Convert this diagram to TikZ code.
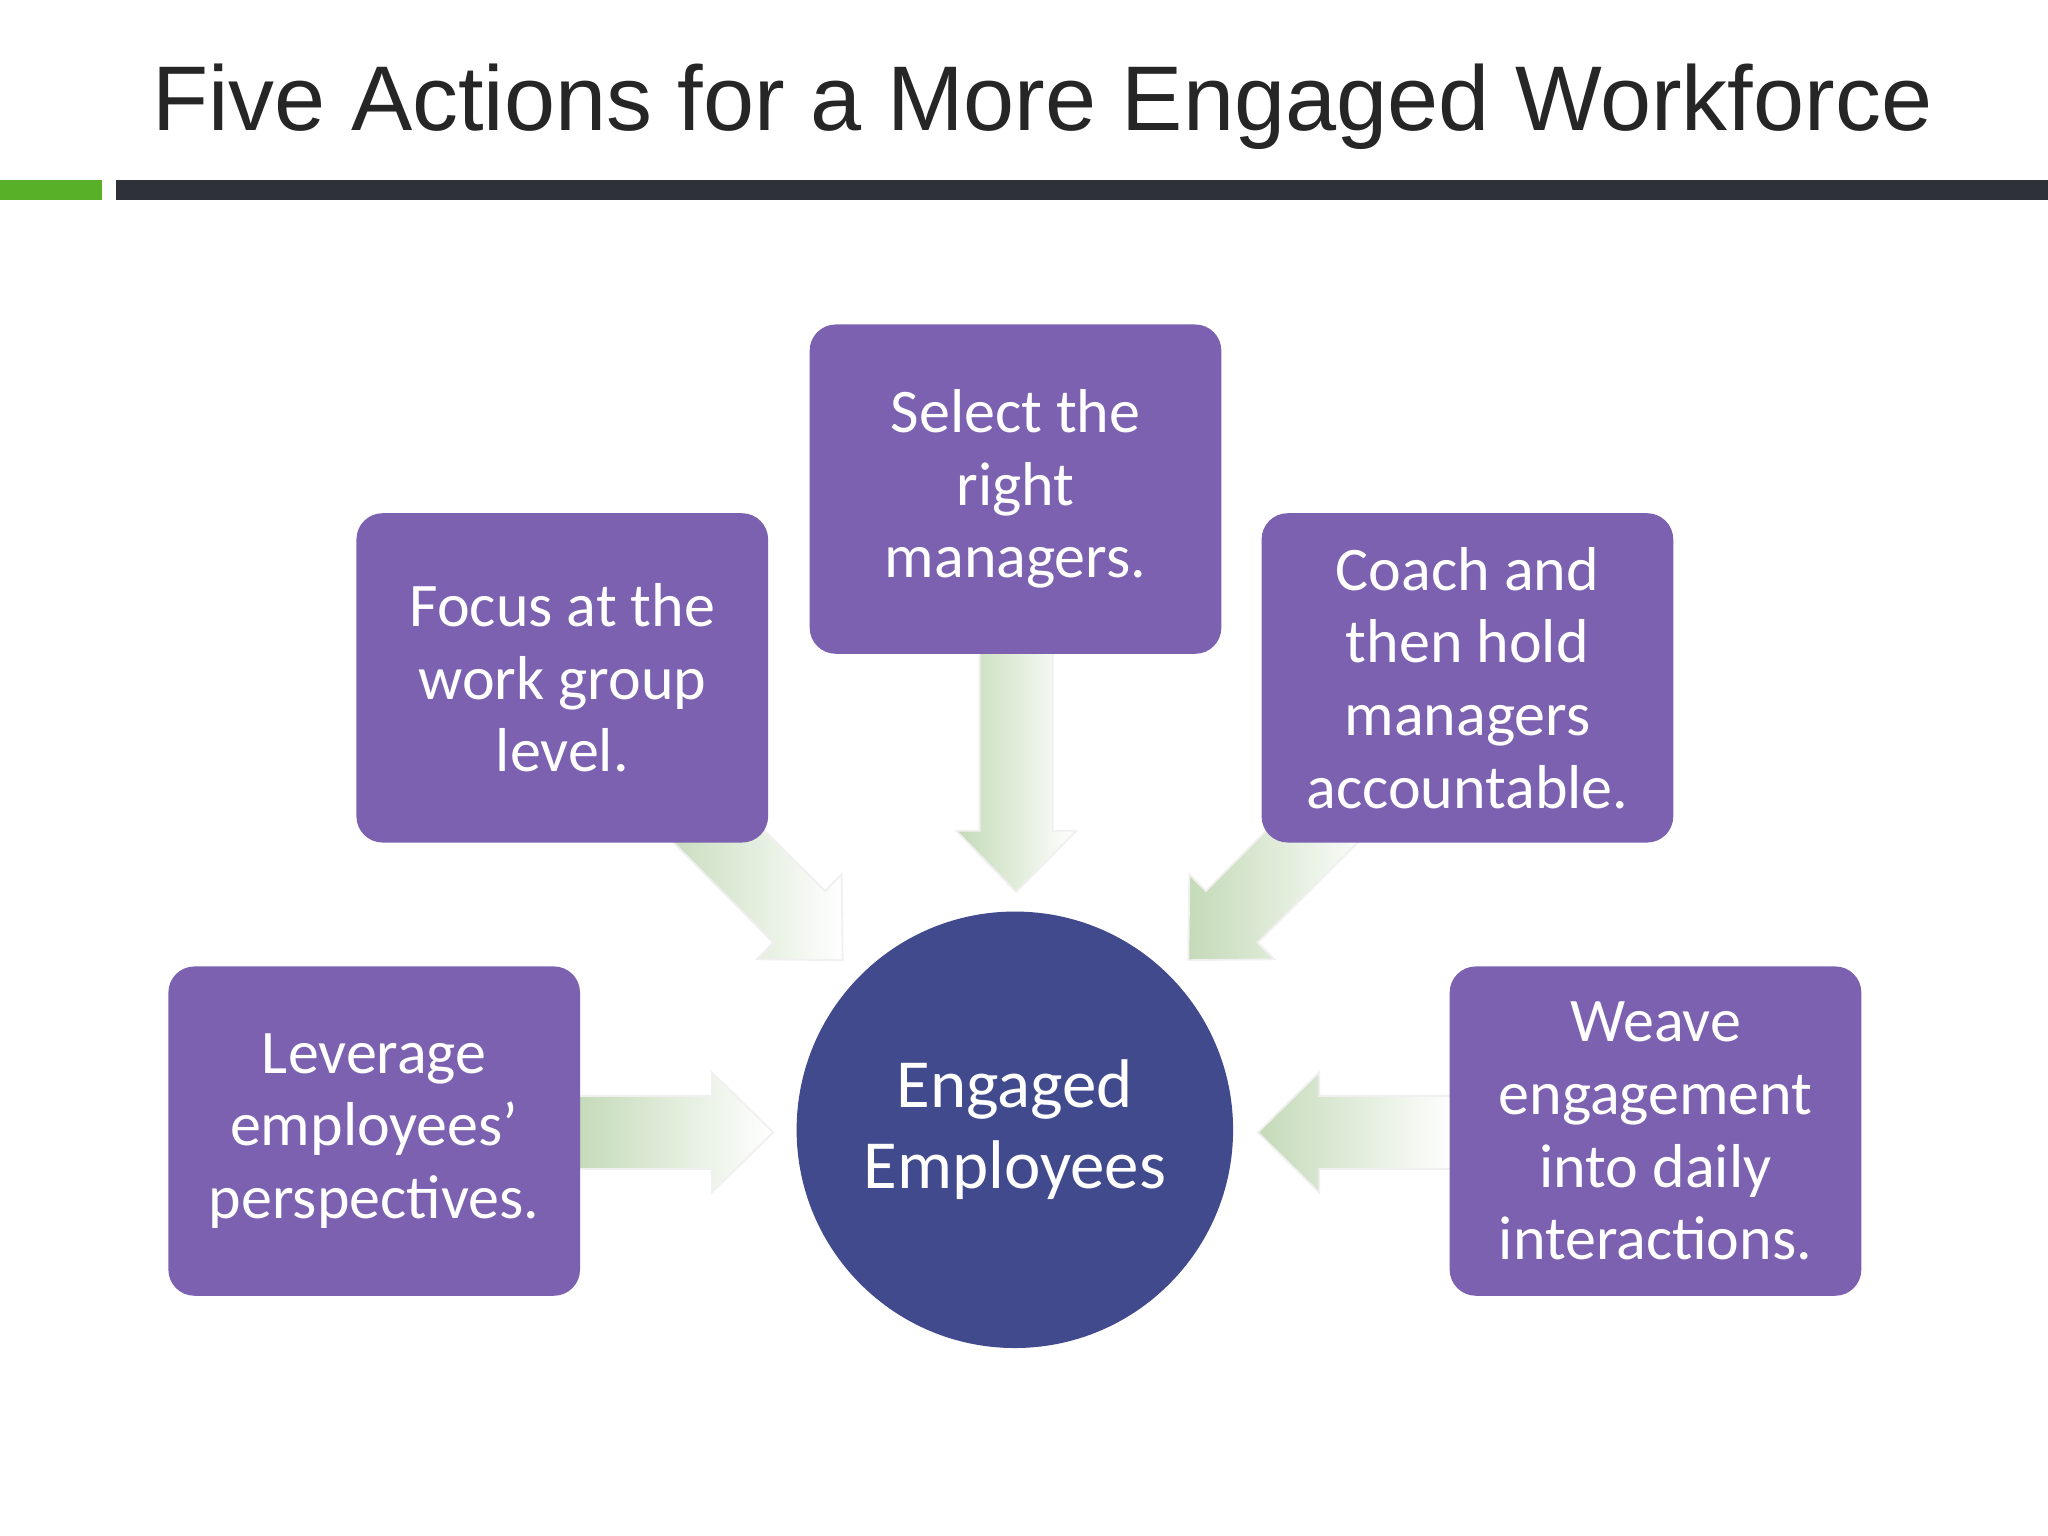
\documentclass[tikz,border=0pt]{standalone}
\usepackage{fontspec}
\setmainfont{Carlito}
\newfontfamily\titlefont{Liberation Sans}
\definecolor{boxpurple}{HTML}{7B61B0}
\definecolor{circblue}{HTML}{414A8C}
\definecolor{bardark}{HTML}{2E3238}
\definecolor{bargreen}{HTML}{58B028}
\definecolor{arrowgreen}{HTML}{C4DAB8}
\begin{document}
\begin{tikzpicture}[x=0.01cm,y=-0.01cm,
  actbox/.style={rectangle,rounded corners=0.2cm,fill=boxpurple,text=white,minimum width=3.15cm,minimum height=2.52cm,align=center,font=\fontsize{13.5}{15.8}\selectfont},
  blk/.style={left color=arrowgreen,right color=white,draw=gray!12}]
\useasboundingbox[fill=white] (0,0) rectangle (1568,1176);
\node[anchor=base west,font=\titlefont\fontsize{20}{24}\selectfont,text=black!85] (title) at (104,100) {Five Actions for a More Engaged Workforce};
\fill[bargreen] (0,138) rectangle (78,153);
\fill[bardark] (89,138) rectangle (1568,153);
% arrows
\newcommand{\blockarr}[4]{% x y angle length
  \begin{scope}[shift={(#1,#2)},rotate=#3]
  \path[blk] (0,-28) -- ({#4-47},-28) -- ({#4-47},-46) -- (#4,0) -- ({#4-47},46) -- ({#4-47},28) -- (0,28) -- cycle;
  \end{scope}}
\blockarr{778}{495}{-90}{188}
\blockarr{440}{867}{0}{152}
\blockarr{1115}{867}{180}{152}
\blockarr{520}{610}{-45}{177}
\blockarr{1035}{610}{-135}{177}
\node[actbox] (top) at (777.5,374.5) {Select the\\right\\managers.};
\node[actbox] (lm) at (430.5,519) {Focus at the\\work group\\level.};
\node[actbox] (rm) at (1123.5,519) {Coach and\\then hold\\managers\\accountable.};
\node[actbox] (bl) at (286.5,866) {Leverage\\employees’\\perspectives.};
\node[actbox] (br) at (1267.5,866) {Weave\\engagement\\into daily\\interactions.};
\node[circle,fill=circblue,minimum size=3.34cm,text=white,align=center,font=\fontsize{15}{17.5}\selectfont] (ctr) at (777,865) {Engaged\\Employees};
\end{tikzpicture}
\end{document}
